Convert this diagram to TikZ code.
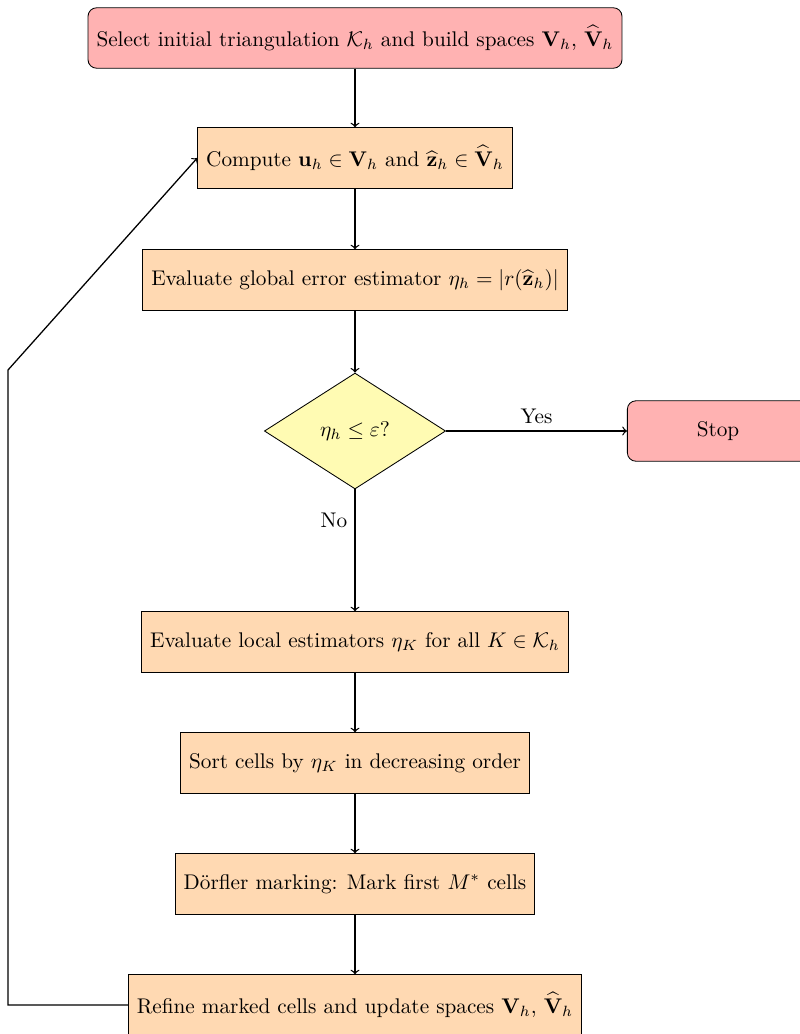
\documentclass[tikz,border=0pt]{standalone}
\usepackage{amsmath,amssymb}
\usetikzlibrary{shapes.geometric}
\begin{document}
\begin{tikzpicture}[x=0.471pt,y=-0.471pt,
  stepbox/.style={draw=black, fill=orange!30, minimum height=1cm, inner xsep=4pt},
  termbox/.style={draw=black, fill=red!30, rounded corners=4pt, minimum height=1cm, inner xsep=4pt},
  decbox/.style={draw=black, fill=yellow!30, diamond, shape aspect=1.56, minimum width=3cm, minimum height=54.6pt, inner sep=1pt},
  arr/.style={->, semithick}]
\useasboundingbox (0,0) rectangle (799,1034);
\node[termbox] (start) at (355,38) {Select initial triangulation $\mathcal{K}_h$ and build spaces $\mathbf{V}_h$, $\widehat{\mathbf{V}}_h$};
\node[stepbox] (comp) at (355,158) {Compute $\mathbf{u}_h \in \mathbf{V}_h$ and $\widehat{\mathbf{z}}_h \in \widehat{\mathbf{V}}_h$};
\node[stepbox] (glob) at (355,280) {Evaluate global error estimator $\eta_h = |r(\widehat{\mathbf{z}}_h)|$};
\node[decbox] (dec) at (355,431) {$\eta_h \le \varepsilon$?};
\node[termbox, minimum width=3cm] (stop) at (718,431) {Stop};
\node[stepbox] (loc) at (355,642) {Evaluate local estimators $\eta_K$ for all $K \in \mathcal{K}_h$};
\node[stepbox] (sort) at (355,763) {Sort cells by $\eta_K$ in decreasing order};
\node[stepbox] (mark) at (355,884) {Dörfler marking: Mark first $M^*$ cells};
\node[stepbox] (ref) at (355,1005) {Refine marked cells and update spaces $\mathbf{V}_h$, $\widehat{\mathbf{V}}_h$};
\coordinate (lb) at (8,1005);
\coordinate (lt) at (8,370);
\draw[arr] (start) -- (comp);
\draw[arr] (comp) -- (glob);
\draw[arr] (glob) -- (dec);
\draw[arr] (dec) -- node[above] {Yes} (stop);
\draw[arr] (dec) -- node[pos=0.25, left] {No} (loc);
\draw[arr] (loc) -- (sort);
\draw[arr] (sort) -- (mark);
\draw[arr] (mark) -- (ref);
\draw[arr] (ref.west) -- (lb) -- (lt) -- (comp.west);
\end{tikzpicture}
\end{document}
